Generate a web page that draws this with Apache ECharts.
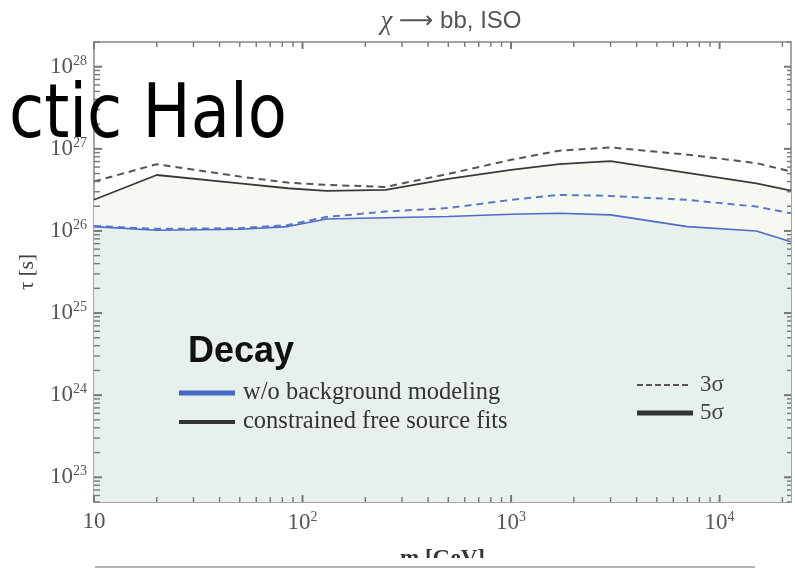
<!DOCTYPE html>
<html><head><meta charset="utf-8">
<script src="https://cdn.jsdelivr.net/npm/echarts@6/dist/echarts.min.js"></script>
<style>html,body{margin:0;padding:0;background:#fff}#c{width:795px;height:571px}</style>
</head><body><div id="c"></div>
<script>
// ---- data ----
const masses      = [10, 20, 50, 85, 130, 250, 500, 1000, 1700, 3000, 7000, 15000, 22000];
const blueSolid5  = [1.13e26, 1.02e26, 1.05e26, 1.13e26, 1.40e26, 1.45e26, 1.50e26, 1.60e26, 1.64e26, 1.57e26, 1.13e26, 1.00e26, 7.4e25];
const blueDash3   = [1.15e26, 1.06e26, 1.08e26, 1.18e26, 1.48e26, 1.72e26, 1.90e26, 2.39e26, 2.75e26, 2.67e26, 2.39e26, 1.98e26, 1.64e26];
const blackSolid5 = [2.4e26, 4.8e26, 3.8e26, 3.31e26, 3.08e26, 3.16e26, 4.3e26, 5.55e26, 6.5e26, 7.1e26, 5.1e26, 3.8e26, 3.1e26];
const blackDash3  = [4.0e26, 6.5e26, 4.6e26, 3.88e26, 3.64e26, 3.44e26, 4.95e26, 7.35e26, 9.5e26, 1.04e27, 8.5e26, 6.7e26, 5.3e26];
const xMin = 10, xMax = 22000, yMin = 5e22, yMax = 2e28;

const pairs = arr => masses.map((m, i) => [m, arr[i]]);

// tick marks (major + minor) on all 4 sides, placed via axis coords
const tickData = [];
for (let e = 0; e <= 5; e++) for (let k = 1; k <= 9; k++) {
  const v = k * Math.pow(10, e);
  if (v < xMin || v > xMax) continue;
  tickData.push([v, yMin, 2, k === 1 ? 1 : 0]);
  tickData.push([v, yMax, 3, k === 1 ? 1 : 0]);
}
for (let e = 22; e <= 28; e++) for (let k = 1; k <= 9; k++) {
  const v = k * Math.pow(10, e);
  if (v < yMin || v > yMax) continue;
  tickData.push([xMin, v, 0, k === 1 ? 1 : 0]);
  tickData.push([xMax, v, 1, k === 1 ? 1 : 0]);
}

const chart = echarts.init(document.getElementById('c'));
const serif = '"Liberation Serif", "DejaVu Serif", serif';
const sans = '"Liberation Sans", Arial, sans-serif';
const frame = {show: true, lineStyle: {color: '#a5a5a5', width: 2}};

function powLabel(v) {
  const l = Math.log10(v), e = Math.round(l);
  if (Math.abs(l - e) > 1e-6) return '';
  if (e === 1) return '{b|10}';
  return '{b|10}{s|' + e + '}';
}
const rich = {
  b: {fontSize: 23, fontFamily: serif, color: '#555'},
  s: {fontSize: 14, fontFamily: serif, color: '#555', padding: [0, 0, 11, 0]}
};

const option = {
  animation: false,
  backgroundColor: '#fff',
  grid: {left: 94, right: 4, top: 42, bottom: 69, containLabel: false, outerBoundsMode: 'none'},
  title: {
    text: '{c|χ} {a|⟶} bb, ISO',
    left: 446, top: 3, textAlign: 'center',
    textStyle: {fontSize: 24, fontWeight: 'normal', fontFamily: sans, color: '#555',
      rich: {c: {fontFamily: serif, fontStyle: 'italic', fontSize: 27, color: '#555'},
             a: {fontSize: 24, fontFamily: '"DejaVu Sans", sans-serif', color: '#555'}}}
  },
  xAxis: [
    {type: 'log', logBase: 10, min: xMin, max: xMax, position: 'bottom',
     axisLine: frame, axisTick: {show: false}, splitLine: {show: false}, minorTick: {show: false},
     axisLabel: {formatter: powLabel, rich: rich, margin: 8, showMinLabel: true, showMaxLabel: false},
     name: 'm [GeV]', nameLocation: 'middle', nameGap: 46,
     nameTextStyle: {fontFamily: serif, fontSize: 23, fontWeight: 'bold', color: '#333'}},
    {type: 'log', logBase: 10, min: xMin, max: xMax, position: 'top',
     axisLine: frame, axisTick: {show: false}, splitLine: {show: false}, axisLabel: {show: false}}
  ],
  yAxis: [
    {type: 'log', logBase: 10, min: yMin, max: yMax, position: 'left',
     axisLine: frame, axisTick: {show: false}, splitLine: {show: false}, minorTick: {show: false},
     axisLabel: {formatter: powLabel, rich: rich, margin: 7, showMinLabel: false, showMaxLabel: false},
     name: 'τ [s]', nameLocation: 'middle', nameGap: 56, nameRotate: 90,
     nameTextStyle: {fontFamily: serif, fontSize: 21, color: '#444'}},
    {type: 'log', logBase: 10, min: yMin, max: yMax, position: 'right',
     axisLine: frame, axisTick: {show: false}, splitLine: {show: false}, axisLabel: {show: false}}
  ],
  series: [
    {type: 'line', name: 'cfs5fill', data: pairs(blackSolid5), showSymbol: false, z: 1,
     lineStyle: {width: 0}, areaStyle: {color: '#f6f9f1', opacity: 1, origin: 'start'}},
    {type: 'line', name: 'bg5fill', data: pairs(blueSolid5), showSymbol: false, z: 2,
     lineStyle: {width: 0}, areaStyle: {color: '#e7f0ec', opacity: 1, origin: 'start'}},
    {type: 'line', name: 'w/o bg 3σ', data: pairs(blueDash3), showSymbol: false, z: 3,
     lineStyle: {color: '#5a78cc', width: 2, type: [7, 5]}},
    {type: 'line', name: 'w/o bg 5σ', data: pairs(blueSolid5), showSymbol: false, z: 3,
     lineStyle: {color: '#4b6cc8', width: 1.6}},
    {type: 'line', name: 'cfs 3σ', data: pairs(blackDash3), showSymbol: false, z: 3,
     lineStyle: {color: '#555', width: 2, type: [7, 5]}},
    {type: 'line', name: 'cfs 5σ', data: pairs(blackSolid5), showSymbol: false, z: 3,
     lineStyle: {color: '#3a3a3a', width: 1.8}},
    {type: 'custom', name: 'ticks', data: tickData, clip: false, silent: true, z: 5,
     renderItem: function (params, api) {
       const p = api.coord([api.value(0), api.value(1)]);
       const dir = api.value(2), major = api.value(3) === 1;
       let dx = 0, dy = 0;
       if (dir === 0) dx = major ? 8 : 6;
       else if (dir === 1) dx = major ? -7 : -4;
       else if (dir === 2) dy = major ? -7 : -5;
       else dy = major ? 7 : 5;
       return {type: 'line', shape: {x1: p[0], y1: p[1], x2: p[0] + dx, y2: p[1] + dy},
               style: {stroke: '#777', lineWidth: major ? 2 : 1.4}};
     }}
  ],
  graphic: [
    {type: 'text', x: 188, y: 352, z: 50, style: {text: 'Decay', font: 'bold 36px ' + sans, fill: '#111', verticalAlign: 'middle'}},
    {type: 'line', z: 50, shape: {x1: 179, y1: 393, x2: 235, y2: 393}, style: {stroke: '#4466c4', lineWidth: 5}},
    {type: 'text', x: 243, y: 393, z: 50, style: {text: 'w/o background modeling', font: '24.5px ' + serif, fill: '#333', verticalAlign: 'middle'}},
    {type: 'line', z: 50, shape: {x1: 179, y1: 422, x2: 235, y2: 422}, style: {stroke: '#333', lineWidth: 4}},
    {type: 'text', x: 243, y: 422, z: 50, style: {text: 'constrained free source fits', font: '24.5px ' + serif, fill: '#333', verticalAlign: 'middle'}},
    {type: 'line', z: 50, shape: {x1: 637, y1: 385, x2: 690, y2: 385}, style: {stroke: '#555', lineWidth: 2.2, lineDash: [6, 3]}},
    {type: 'text', x: 700, y: 385, z: 50, style: {text: '3σ', font: '23px ' + serif, fill: '#444', verticalAlign: 'middle'}},
    {type: 'line', z: 50, shape: {x1: 637, y1: 413, x2: 693, y2: 413}, style: {stroke: '#333', lineWidth: 5}},
    {type: 'text', x: 700, y: 413, z: 50, style: {text: '5σ', font: '23px ' + serif, fill: '#444', verticalAlign: 'middle'}},
    // slide overlay text
    {type: 'text', x: 9, y: 118, scaleY: 1.17, z: 60, style: {text: 'ctic Halo', font: '64px "Comic Sans MS", "DejaVu Sans", sans-serif', fill: '#000', verticalAlign: 'middle'}},
    // bottom slide strip covering the axis title
    {type: 'rect', z: 60, shape: {x: 0, y: 558, width: 795, height: 13}, style: {fill: '#fff'}},
    {type: 'line', z: 61, shape: {x1: 95, y1: 567, x2: 755, y2: 567}, style: {stroke: '#666', lineWidth: 1}}
  ]
};
chart.setOption(option);
</script></body></html>
